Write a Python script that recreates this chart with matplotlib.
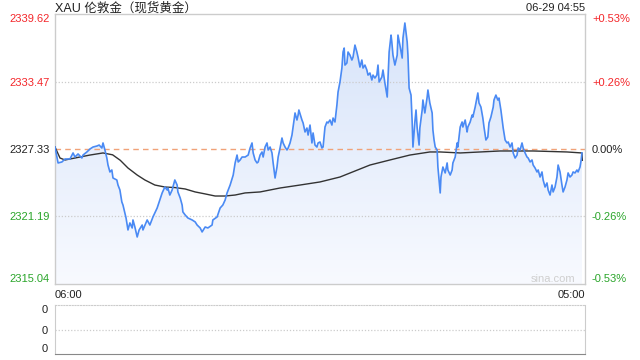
import numpy as np
import matplotlib
matplotlib.use("Agg")
import matplotlib.pyplot as plt
from matplotlib.colors import LinearSegmentedColormap

plt.rcParams['font.family'] = ['Liberation Sans', 'Noto Sans CJK SC', 'DejaVu Sans']

# minutes after 06:00 and price (USD/oz)
minutes = [
    0, 8, 18, 26, 39, 47, 52, 60, 70, 73, 83, 91, 99, 109, 115, 122, 125, 130, 135, 138,
    143, 148, 151, 161, 164, 169, 174, 177, 185, 190, 195, 201, 203, 208, 214, 219, 227, 229, 240, 247,
    255, 266, 273, 279, 286, 292, 294, 299, 305, 307, 312, 318, 320, 326, 331, 333, 339, 346, 357, 365,
    370, 378, 383, 391, 398, 409, 411, 422, 430, 437, 443, 448, 456, 464, 469, 474, 477, 482, 487, 495,
    503, 508, 513, 516, 521, 526, 529, 534, 539, 542, 547, 552, 555, 560, 565, 568, 573, 578, 581, 586,
    591, 594, 599, 604, 607, 612, 617, 620, 625, 630, 633, 635, 643, 646, 651, 656, 659, 664, 669, 672,
    677, 682, 685, 690, 695, 698, 703, 708, 711, 716, 721, 724, 729, 734, 737, 742, 747, 750, 753, 755,
    760, 763, 768, 773, 776, 781, 786, 789, 794, 799, 802, 807, 812, 815, 820, 825, 828, 833, 838, 841,
    844, 851, 854, 859, 865, 867, 870, 875, 877, 880, 885, 891, 893, 898, 904, 906, 911, 917, 919, 922,
    927, 930, 932, 937, 940, 943, 948, 950, 956, 958, 963, 969, 971, 976, 982, 984, 987, 990, 995, 997,
    1003, 1005, 1010, 1016, 1021, 1023, 1029, 1034, 1036, 1042, 1047, 1049, 1055, 1060, 1062, 1068, 1073, 1075, 1081, 1086,
    1088, 1094, 1099, 1101, 1104, 1109, 1114, 1117, 1122, 1127, 1130, 1135, 1141, 1143, 1148, 1153, 1156, 1161, 1167, 1172,
    1177, 1180, 1185, 1190, 1193, 1198, 1203, 1206, 1211, 1216, 1219, 1224, 1229, 1232, 1237, 1242, 1245, 1250, 1255, 1258,
    1263, 1268, 1271, 1276, 1281, 1284, 1289, 1294, 1297, 1302, 1307, 1310, 1315, 1320, 1323, 1328, 1333, 1336, 1341, 1346,
    1349, 1354, 1359, 1362, 1367, 1370, 1372,
]
prices = [
    2327.51, 2326.06, 2326.15, 2326.42, 2326.42, 2326.97, 2326.60, 2326.88, 2326.51, 2326.78,
    2327.06, 2327.33, 2327.51, 2327.60, 2327.69, 2327.42, 2327.88, 2327.24, 2326.51, 2325.87,
    2325.24, 2325.42, 2324.69, 2324.51, 2324.05, 2323.60, 2322.51, 2322.23, 2321.05, 2319.96,
    2320.60, 2320.14, 2320.87, 2320.23, 2319.32, 2319.96, 2320.41, 2319.96, 2320.87, 2320.41,
    2321.14, 2321.96, 2322.69, 2323.33, 2323.87, 2323.60, 2323.78, 2323.14, 2323.60, 2323.87,
    2324.51, 2324.05, 2323.42, 2322.87, 2322.23, 2321.60, 2321.32, 2321.05, 2320.87, 2320.69,
    2320.41, 2320.14, 2319.78, 2320.23, 2320.14, 2320.41, 2320.87, 2321.14, 2321.96, 2322.23,
    2322.69, 2323.33, 2324.05, 2324.96, 2326.06, 2326.78, 2326.15, 2326.33, 2326.60, 2326.60,
    2326.78, 2327.42, 2327.88, 2326.97, 2326.33, 2326.06, 2326.15, 2326.78, 2327.06, 2326.60,
    2327.51, 2327.88, 2327.24, 2327.51, 2326.97, 2326.06, 2324.69, 2325.69, 2326.60, 2327.42,
    2328.33, 2327.88, 2327.51, 2327.24, 2327.42, 2327.88, 2328.60, 2329.33, 2330.61, 2329.97,
    2330.42, 2330.88, 2329.97, 2329.70, 2328.88, 2329.24, 2328.60, 2329.51, 2327.88, 2328.79,
    2327.69, 2327.51, 2327.88, 2327.97, 2327.42, 2327.51, 2329.33, 2329.79, 2329.70, 2329.97,
    2329.51, 2330.15, 2329.79, 2331.33, 2332.52, 2333.43, 2334.70, 2336.16, 2336.52, 2334.97,
    2335.16, 2336.16, 2335.88, 2335.43, 2335.70, 2336.79, 2336.16, 2335.70, 2334.79, 2335.43,
    2334.70, 2334.97, 2334.52, 2334.06, 2334.25, 2333.61, 2334.06, 2333.79, 2334.06, 2334.97,
    2333.43, 2333.88, 2334.52, 2333.34, 2332.06, 2333.79, 2336.16, 2337.70, 2337.07, 2335.88,
    2334.97, 2335.88, 2337.70, 2336.79, 2335.61, 2337.43, 2338.80, 2337.07, 2335.88, 2332.88,
    2332.24, 2329.79, 2327.51, 2329.79, 2330.88, 2329.24, 2327.69, 2329.24, 2330.88, 2331.79,
    2330.61, 2332.06, 2332.70, 2331.52, 2330.61, 2329.06, 2328.15, 2327.51, 2327.24, 2325.69,
    2323.33, 2324.78, 2325.69, 2325.15, 2326.06, 2325.42, 2324.96, 2325.42, 2326.06, 2326.60,
    2327.88, 2327.51, 2329.33, 2329.79, 2329.33, 2329.97, 2328.88, 2329.33, 2329.79, 2330.42,
    2330.24, 2331.15, 2332.06, 2332.43, 2331.52, 2331.15, 2330.15, 2329.33, 2328.15, 2328.42,
    2329.70, 2330.24, 2331.15, 2331.79, 2332.24, 2331.79, 2331.97, 2330.88, 2329.24, 2328.15,
    2327.88, 2327.97, 2327.51, 2327.88, 2326.97, 2326.51, 2326.78, 2327.42, 2327.24, 2327.88,
    2327.42, 2326.97, 2326.60, 2326.51, 2326.15, 2326.33, 2325.87, 2325.60, 2325.24, 2325.42,
    2324.78, 2325.24, 2324.51, 2323.87, 2324.24, 2323.60, 2323.14, 2324.05, 2323.42, 2323.87,
    2324.78, 2325.87, 2325.24, 2324.05, 2323.42, 2323.87, 2324.51, 2325.15, 2324.78, 2324.96,
    2325.24, 2325.15, 2325.42, 2325.24, 2325.69, 2326.33, 2326.97,
]

# running average line
avg_minutes = [0, 13, 26, 52, 91, 125, 150, 170, 190, 214, 234, 260, 286, 312, 339, 365, 391, 417, 443,
               469, 495, 534, 586, 638, 690, 742, 820, 872, 924, 976, 1003, 1055, 1107, 1159, 1245,
               1333, 1372, 1373]
avg_prices = [2327.51, 2326.51, 2326.33, 2326.51, 2326.78, 2326.97, 2326.80, 2326.30, 2325.60, 2324.96,
              2324.51, 2324.05, 2323.87, 2323.82, 2323.69, 2323.42, 2323.24, 2323.05, 2323.05, 2323.14,
              2323.33, 2323.42, 2323.78, 2324.05, 2324.33, 2324.78, 2325.87, 2326.33, 2326.78, 2327.06,
              2327.06, 2326.97, 2327.06, 2327.15, 2327.15, 2327.06, 2326.97, 2326.30]

prev_close = 2327.33
price_ticks = [2315.04, 2321.19, 2327.33, 2333.47, 2339.62]
price_labels = ["2315.04", "2321.19", "2327.33", "2333.47", "2339.62"]
pct_labels = ["-0.53%", "-0.26%", "0.00%", "+0.26%", "+0.53%"]
time_labels = ["06:00", "05:00"]
title = "XAU 伦敦金（现货黄金）"
stamp = "06-29 04:55"

RED = "#f4262a"
GREEN = "#2aa52a"
LINE = "#4a8af4"
GRID = "#cccccc"
label_colors = [GREEN, GREEN, "#222222", RED, RED]

fig = plt.figure(figsize=(6.4, 3.6), dpi=100)
ax = fig.add_axes([55 / 640, 76 / 360, 530 / 640, 270 / 360])
ymin, ymax = price_ticks[0], price_ticks[-1]
ax.set_xlim(0, 1380)
ax.set_ylim(ymin, ymax)

# gradient fill under the price line
cmap = LinearSegmentedColormap.from_list("fill", ["#f8faff", "#d6e3f9"])
grad = np.linspace(0, 1, 256).reshape(-1, 1)
img = ax.imshow(grad, cmap=cmap, aspect="auto", origin="lower",
                extent=[0, 1380, ymin, ymax], zorder=1)
poly = ax.fill_between(minutes, prices, ymin, facecolor="none", edgecolor="none")
img.set_clip_path(poly.get_paths()[0], transform=ax.transData)

for lv in [price_ticks[1], price_ticks[3]]:
    ax.axhline(lv, color=GRID, lw=0.9, ls=(0, (1, 1.5)), zorder=2)
ax.axhline(prev_close, color="#f0a278", lw=1.0, ls=(0, (4, 3)), zorder=2)

ax.plot(minutes, prices, color=LINE, lw=1.2, zorder=4)
ax.plot(avg_minutes, avg_prices, color="#333333", lw=1.0, zorder=3)

for s in ax.spines.values():
    s.set_color(GRID)
    s.set_linewidth(1)

ax.set_yticks(price_ticks)
ax.set_yticklabels(price_labels, fontsize=8)
ax.tick_params(axis="y", length=0, pad=4)
for lbl, c in zip(ax.get_yticklabels(), label_colors):
    lbl.set_color(c)
ax.get_yticklabels()[0].set_va("bottom")
ax.get_yticklabels()[-1].set_va("top")

ax2 = ax.twinx()
ax2.set_ylim(ymin, ymax)
ax2.set_yticks(price_ticks)
ax2.set_yticklabels(pct_labels, fontsize=8)
ax2.tick_params(axis="y", length=0, pad=5)
for lbl, c in zip(ax2.get_yticklabels(), label_colors):
    lbl.set_color(c)
ax2.get_yticklabels()[0].set_va("bottom")
ax2.get_yticklabels()[-1].set_va("top")
for s in ax2.spines.values():
    s.set_visible(False)

ax.set_xticks([0, 1380])
ax.set_xticklabels(time_labels, fontsize=8, color="#222222")
ax.tick_params(axis="x", length=0, pad=4)
ax.get_xticklabels()[0].set_ha("left")
ax.get_xticklabels()[1].set_ha("right")

ax.text(0.94, 0.0, "sina.com", transform=ax.transAxes, ha="center", va="bottom",
        fontsize=8, color="#cfcfcf", zorder=5)

fig.text(55 / 640, 1 - 8 / 360, title, ha="left", va="center", fontsize=9,
         color="#222222", family=["Liberation Sans", "Noto Sans CJK SC", "DejaVu Sans"])
fig.text(585 / 640, 1 - 8 / 360, stamp, ha="right", va="center", fontsize=8, color="#222222")

# volume panel (empty)
axv = fig.add_axes([55 / 640, 6 / 360, 530 / 640, 49 / 360])
axv.set_xlim(0, 1380)
axv.set_ylim(0, 2)
axv.set_xticks([])
axv.set_yticks([0, 1, 2])
axv.set_yticklabels(["0", "0", "0"], fontsize=8, color="#222222")
axv.tick_params(axis="y", length=0, pad=5)
axv.get_yticklabels()[0].set_va("bottom")
axv.get_yticklabels()[2].set_va("top")
axv.axhline(1, color=GRID, lw=0.9, ls=(0, (1, 1.5)))
axv.spines["top"].set_color(GRID)
axv.spines["top"].set_linestyle((0, (1, 1.5)))
axv.spines["left"].set_color(GRID)
axv.spines["right"].set_color(GRID)
axv.spines["bottom"].set_color("#888888")

fig.savefig("out.png", dpi=100)
